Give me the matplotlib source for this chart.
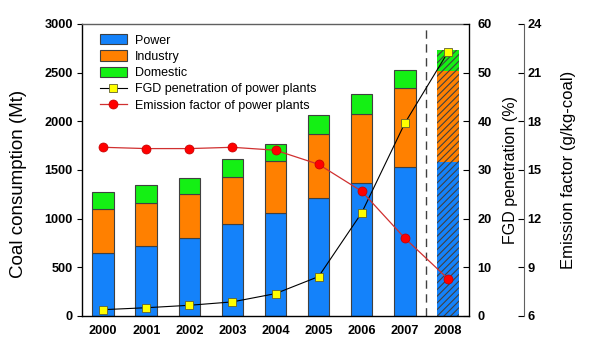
import matplotlib
matplotlib.use("Agg")
import matplotlib.pyplot as plt
import numpy as np
from matplotlib.patches import Patch

plt.rcParams['font.family'] = ['Liberation Sans', 'DejaVu Sans']
plt.rcParams['hatch.color'] = 'white'
plt.rcParams['hatch.linewidth'] = 0.8

years = ['2000', '2001', '2002', '2003', '2004', '2005', '2006', '2007', '2008']
power = [650, 722, 805, 949, 1062, 1209, 1364, 1528, 1586]
industry = [450, 442, 449, 483, 528, 658, 715, 812, 935]
domestic = [177, 185, 167, 178, 178, 198, 201, 191, 213]
fgd = [1.3, 1.7, 2.2, 2.9, 4.6, 8.1, 21.2, 39.6, 54.2]
emission = [16.4, 16.32, 16.32, 16.4, 16.22, 15.35, 13.69, 10.8, 8.3]

c_power = '#1482FA'
c_ind = '#FF8000'
c_dom = '#14F014'

fig = plt.figure(figsize=(6.04, 3.63), dpi=100)
ax = fig.add_axes([82/604, 47/363, 387/604, 292/363])
x = np.arange(len(years))
w = 0.5
ind_bottom = np.array(power)
dom_bottom = ind_bottom + np.array(industry)

for i in range(len(years)):
    last = i == len(years) - 1
    kw = dict(width=w, linewidth=0 if last else 0.8,
              edgecolor='#404040', hatch='/////' if last else None, zorder=2)
    ax.bar(x[i], power[i], color=c_power, **kw)
    ax.bar(x[i], industry[i], bottom=ind_bottom[i], color=c_ind, **kw)
    ax.bar(x[i], domestic[i], bottom=dom_bottom[i], color=c_dom, **kw)

ax.axvline(7.5, color='#404040', linestyle=(0, (6, 4)), linewidth=1, zorder=1)
ax.set_xlim(-0.49, 8.49)
ax.set_ylim(0, 3000)
ax.set_yticks([0, 500, 1000, 1500, 2000, 2500, 3000])
ax.set_xticks(x)
ax.set_xticklabels(years)
ax.tick_params(axis='x', length=0, pad=6.5)
ax.tick_params(axis='y', direction='out', length=3.5, pad=3)
for lbl in ax.get_xticklabels() + ax.get_yticklabels():
    lbl.set_fontweight('bold')
    lbl.set_fontsize(9.2)
ax.set_ylabel('Coal consumption (Mt)', fontsize=13.5)
ax.yaxis.set_label_coords(27.5/604, 179/363, transform=fig.transFigure)
for s in ax.spines.values():
    s.set_color('#606060')
    s.set_linewidth(1)
ax.spines['left'].set_color('black')
ax.spines['bottom'].set_color('black')

ax2 = ax.twinx()
ax2.set_ylim(0, 60)
ax2.set_yticks([0, 10, 20, 30, 40, 50, 60])
l1, = ax2.plot(x, fgd, color='black', linewidth=0.8, marker='s', markersize=5.5,
               markerfacecolor='#FFFF00', markeredgecolor='#606030', markeredgewidth=0.6, zorder=4)
ax2.tick_params(axis='y', direction='in', length=4, pad=6)
for lbl in ax2.get_yticklabels():
    lbl.set_fontweight('bold')
    lbl.set_fontsize(9.2)
ax2.set_ylabel('FGD penetration (%)', fontsize=11.5)
ax2.yaxis.set_label_coords(503.5/604, 193/363, transform=fig.transFigure)
for s in ax2.spines.values():
    s.set_visible(False)
ax2.spines['right'].set_visible(True)
ax2.spines['right'].set_color('black')

ax3 = ax.twinx()
ax3.spines['right'].set_position(('axes', 1.142))
ax3.set_ylim(6, 24)
ax3.set_yticks([6, 9, 12, 15, 18, 21, 24])
l2, = ax3.plot(x, emission, color='#D03030', linewidth=0.9, marker='o', markersize=6.5,
               markerfacecolor='#FF0000', markeredgecolor='#C00000', markeredgewidth=0.5, zorder=4)
ax3.tick_params(axis='y', direction='in', length=4, pad=2.5)
for lbl in ax3.get_yticklabels():
    lbl.set_fontweight('bold')
    lbl.set_fontsize(9.2)
ax3.set_ylabel('Emission factor (g/kg-coal)', fontsize=12)
ax3.yaxis.set_label_coords(561/604, 193/363, transform=fig.transFigure)
for s in ax3.spines.values():
    s.set_visible(False)
ax3.spines['right'].set_visible(True)
ax3.spines['right'].set_color('#606060')

handles = [Patch(facecolor=c_power, edgecolor='#404040', linewidth=0.8),
           Patch(facecolor=c_ind, edgecolor='#404040', linewidth=0.8),
           Patch(facecolor=c_dom, edgecolor='#404040', linewidth=0.8),
           l1, l2]
labels = ['Power', 'Industry', 'Domestic', 'FGD penetration of power plants',
          'Emission factor of power plants']
leg = ax3.legend(handles, labels, loc='upper left', frameon=False, fontsize=9,
                 handlelength=2.2, handleheight=0.9, labelspacing=0.3,
                 handletextpad=0.65, borderaxespad=0.4,
                 bbox_to_anchor=(0.02, 1.0))

fig.savefig('out.png', dpi=100)
